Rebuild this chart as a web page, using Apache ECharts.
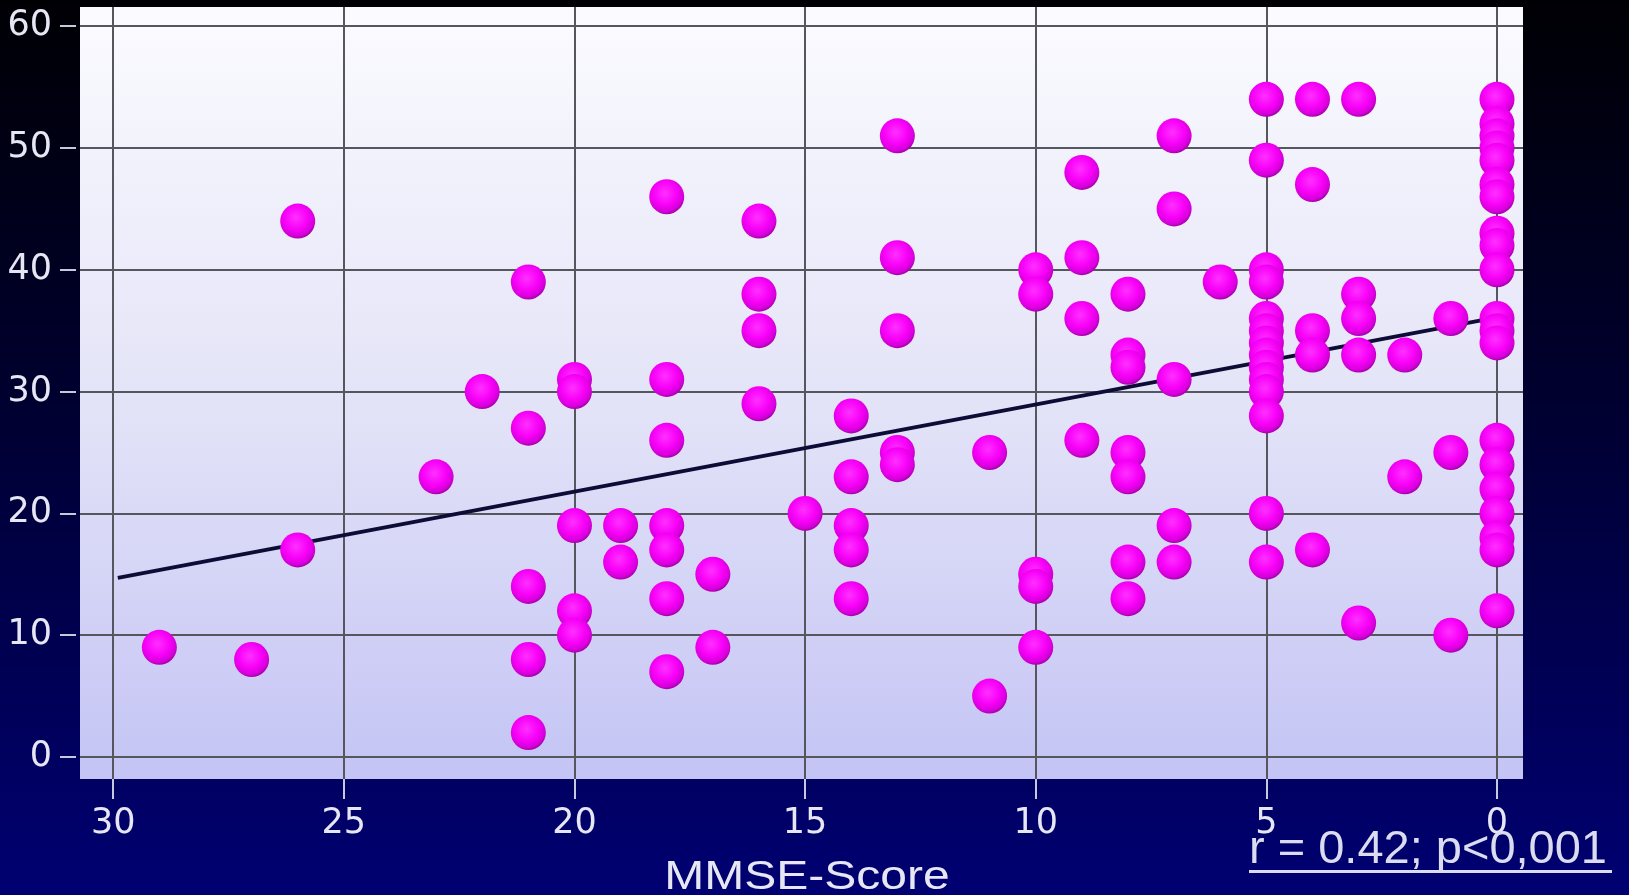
<!DOCTYPE html>
<html>
<head>
<meta charset="utf-8">
<title>MMSE-Score</title>
<script src="https://cdn.jsdelivr.net/npm/echarts@6/dist/echarts.min.js"></script>
<style>
  html, body { margin: 0; padding: 0; background: #000020; }
  #chart { width: 1629px; height: 895px; }
</style>
</head>
<body>
<div id="chart"></div>
<script>
// MMSE score of each patient (x) and the plotted value on the vertical axis (y)
const mmseScores = [
  29,
  27,
  26, 26,
  23,
  22,
  21, 21, 21, 21, 21,
  20, 20, 20, 20, 20,
  19, 19,
  18, 18, 18, 18, 18, 18, 18,
  17, 17,
  16, 16, 16, 16,
  15,
  14, 14, 14, 14, 14,
  13, 13, 13, 13, 13,
  11, 11,
  10, 10, 10, 10, 10,
  9, 9, 9, 9,
  8, 8, 8, 8, 8, 8, 8,
  7, 7, 7, 7, 7,
  6,
  5, 5, 5, 5, 5, 5, 5, 5, 5, 5, 5, 5, 5, 5,
  4, 4, 4, 4, 4,
  3, 3, 3, 3, 3,
  2, 2,
  1, 1, 1,
  0, 0, 0, 0, 0, 0, 0, 0, 0, 0, 0, 0, 0, 0, 0, 0, 0, 0, 0, 0
];
const yValues = [
  9,
  8,
  44, 17,
  23,
  30,
  39, 27, 14, 8, 2,
  31, 30, 19, 12, 10,
  19, 16,
  46, 31, 26, 19, 17, 13, 7,
  15, 9,
  44, 38, 35, 29,
  20,
  28, 23, 19, 17, 13,
  51, 41, 35, 25, 24,
  25, 5,
  40, 38, 15, 14, 9,
  48, 41, 36, 26,
  38, 33, 32, 25, 23, 16, 13,
  51, 45, 31, 19, 16,
  39,
  54, 49, 40, 39, 36, 35, 34, 33, 32, 31, 30, 28, 20, 16,
  54, 47, 35, 33, 17,
  54, 38, 36, 33, 11,
  33, 23,
  36, 25, 10,
  54, 52, 51, 50, 49, 47, 46, 43, 42, 40, 36, 35, 34, 26, 24, 22, 20, 18, 17, 12
];

// Regression line end points
const trendX = [29.9, 0];
const trendY = [14.7, 36.1];

// Tick values
const xTicks = [0, 5, 10, 15, 20, 25, 30];
const yTicks = [0, 10, 20, 30, 40, 50, 60];

const xAxisTitle = 'MMSE-Score';
const statText = 'r = 0.42; p<0,001';

const points = mmseScores.map((x, i) => [x, yValues[i]]);
const trend = trendX.map((x, i) => [x, trendY[i]]);

const chart = echarts.init(document.getElementById('chart'), null, { renderer: 'canvas' });

const labelColor = '#e6e6f4';
const tickColor = '#c8c8dc';
const gridColor = '#56565f';

chart.setOption({
  animation: false,
  backgroundColor: new echarts.graphic.LinearGradient(0, 0, 0, 1, [
    { offset: 0, color: '#000004' },
    { offset: 0.45, color: '#000030' },
    { offset: 1, color: '#000072' }
  ]),
  grid: {
    left: 80,
    right: 106,
    top: 7,
    bottom: 116,
    show: true,
    borderWidth: 0,
    backgroundColor: new echarts.graphic.LinearGradient(0, 0, 0, 1, [
      { offset: 0, color: '#fbfbff' },
      { offset: 0.5, color: '#e4e4f8' },
      { offset: 1, color: '#c4c4f5' }
    ])
  },
  xAxis: {
    type: 'value',
    inverse: true,
    min: -0.564,
    max: 30.72,
    axisLine: { show: true, onZero: false, lineStyle: { color: 'rgba(0,0,0,0)', width: 0 } },
    axisTick: {
      show: true,
      inside: false,
      customValues: xTicks,
      length: 20,
      lineStyle: { color: tickColor, width: 2 }
    },
    axisLabel: {
      customValues: xTicks,
      margin: 27,
      color: labelColor,
      fontFamily: 'DejaVu Sans',
      fontSize: 35
    },
    splitLine: { show: true, lineStyle: { color: gridColor, width: 2 } }
  },
  yAxis: {
    type: 'value',
    min: -1.81,
    max: 61.58,
    offset: 4,
    axisLine: { show: true, onZero: false, lineStyle: { color: 'rgba(0,0,0,0)', width: 0 } },
    axisTick: {
      show: true,
      inside: false,
      customValues: yTicks,
      length: 16,
      lineStyle: { color: tickColor, width: 2 }
    },
    axisLabel: {
      customValues: yTicks,
      margin: 24,
      color: labelColor,
      fontFamily: 'DejaVu Sans',
      fontSize: 35
    },
    splitLine: { show: true, lineStyle: { color: gridColor, width: 2 } }
  },
  series: [
    {
      type: 'line',
      data: trend,
      showSymbol: false,
      symbol: 'none',
      z: 2,
      lineStyle: { color: '#0c0c36', width: 3.8 }
    },
    {
      type: 'scatter',
      data: points,
      symbol: 'circle',
      symbolSize: 35,
      z: 3,
      itemStyle: {
        opacity: 1,
        color: new echarts.graphic.RadialGradient(0.45, 0.4, 0.62, [
          { offset: 0, color: '#ff30ff' },
          { offset: 0.55, color: '#f800f8' },
          { offset: 0.85, color: '#d400d8' },
          { offset: 1, color: '#9a00a0' }
        ])
      }
    }
  ],
  graphic: [
    {
      type: 'text',
      x: 807,
      y: 878,
      scaleX: 1.2,
      style: {
        text: xAxisTitle,
        fill: labelColor,
        font: '40px "Liberation Sans", Arial, sans-serif',
        align: 'center',
        verticalAlign: 'middle'
      },
      z: 10
    },
    {
      type: 'text',
      x: 1249,
      y: 850,
      style: {
        text: statText,
        fill: '#dcdcf0',
        font: '47px "Liberation Sans", Arial, sans-serif',
        align: 'left',
        verticalAlign: 'middle'
      },
      z: 10
    },
    {
      type: 'rect',
      shape: { x: 1249, y: 870, width: 363, height: 3 },
      style: { fill: '#dcdcf0' },
      z: 10
    }
  ]
});
</script>
</body>
</html>
